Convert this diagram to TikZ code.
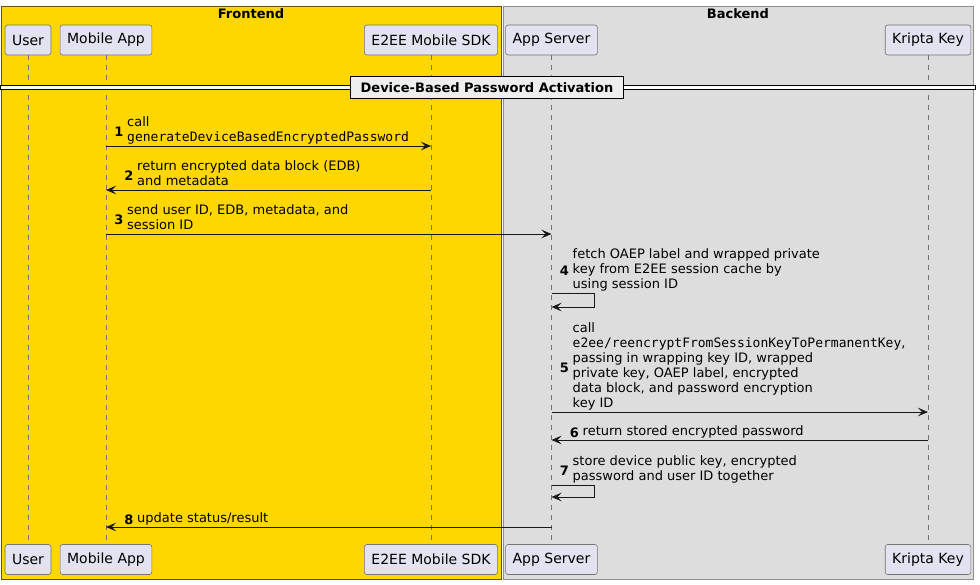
\documentclass[tikz,border=0pt]{standalone}
\usepackage{fontspec}
\setmainfont{DejaVu Sans}
\setmonofont{DejaVu Sans Mono}
\usepackage{tikz}
\usetikzlibrary{arrows.meta, positioning, calc, backgrounds}
\definecolor{frontfill}{HTML}{FFD700}
\definecolor{backfill}{HTML}{DDDDDD}
\definecolor{partfill}{HTML}{E2E2F0}
\definecolor{divfill}{HTML}{EEEEEE}
\definecolor{inkline}{HTML}{181818}

\begin{document}
\begin{tikzpicture}[x=1pt, y=-1pt, font=\fontsize{13}{15}\selectfont]
\tikzstyle{part} = [rectangle, draw=black!55, fill=partfill, rounded corners=2.5pt, minimum height=30pt, inner xsep=7pt, font=\fontsize{14}{16}\selectfont, line width=0.6pt]
\tikzstyle{group} = [draw=black!45, line width=0.8pt]
\tikzstyle{grouptitle} = [font=\fontsize{13}{15}\selectfont\bfseries, inner sep=0pt]
\tikzstyle{life} = [draw=black!55, dash pattern=on 5pt off 5pt, line width=0.6pt]
\tikzstyle{msg} = [draw=inkline, -{Stealth[length=10pt, width=8.5pt, inset=4pt]}, line width=0.9pt]
\tikzstyle{msgtext} = [align=left, inner sep=0pt, anchor=south west]
\tikzstyle{num} = [font=\fontsize{13}{15}\selectfont\bfseries, inner sep=0pt]
\tikzstyle{divider} = [rectangle, draw=black, fill=divfill, line width=1.6pt, minimum width=273pt, minimum height=22pt, font=\fontsize{13}{15}\selectfont\bfseries]

\useasboundingbox (0,0) rectangle (980,584);

\begin{pgfonlayer}{background}
    \draw [group, fill=frontfill, draw=black!45!frontfill!70!black] (1,6) rectangle (501,579);
    \draw [group, fill=backfill] (503,6) rectangle (973,579);
\end{pgfonlayer}
\node (ftitle) [grouptitle] at (251,13.5) {Frontend};
\node (btitle) [grouptitle] at (738,13.5) {Backend};

\node (user) [part] at (28,40) {User};
\node (app) [part] at (106,40) {Mobile App};
\node (sdk) [part] at (431,40) {E2EE Mobile SDK};
\node (srv) [part] at (551.5,40) {App Server};
\node (kk) [part] at (928,40) {Kripta Key};

\node (userB) [part] at (user |- 0,559.5) {User};
\node (appB) [part] at (app |- 0,559.5) {Mobile App};
\node (sdkB) [part] at (sdk |- 0,559.5) {E2EE Mobile SDK};
\node (srvB) [part] at (srv |- 0,559.5) {App Server};
\node (kkB) [part] at (kk |- 0,559.5) {Kripta Key};

\draw [life] (user) -- (userB);
\draw [life] (app) -- (appB);
\draw [life] (sdk) -- (sdkB);
\draw [life] (srv) -- (srvB);
\draw [life] (kk) -- (kkB);

\draw [line width=0.9pt, fill=white] (0,85.5) rectangle (975,89.5);
\node (activation) [divider] at (487,87.5) {Device-Based Password Activation};

\coordinate (m1a) at (app |- 0,146);
\coordinate (m1b) at (sdk |- 0,146);
\coordinate (m2a) at (sdk |- 0,190);
\coordinate (m2b) at (app |- 0,190);
\coordinate (m3a) at (app |- 0,234);
\coordinate (m3b) at (srv |- 0,234);
\coordinate (m4a) at (srv |- 0,293);
\coordinate (m4b) at (srv |- 0,307);
\coordinate (m5a) at (srv |- 0,412);
\coordinate (m5b) at (kk |- 0,412);
\coordinate (m6a) at (kk |- 0,440);
\coordinate (m6b) at (srv |- 0,440);
\coordinate (m7a) at (srv |- 0,485);
\coordinate (m7b) at (srv |- 0,497);
\coordinate (m8a) at (srv |- 0,527);
\coordinate (m8b) at (app |- 0,527);

\draw [msg] (m1a) -- (m1b);
\draw [msg] (m2a) -- (m2b);
\draw [msg] (m3a) -- (m3b);
\draw [msg] (m4a) -- ++(43,0) |- (m4b);
\draw [msg] (m5a) -- (m5b);
\draw [msg] (m6a) -- (m6b);
\draw [msg] (m7a) -- ++(43,0) |- (m7b);
\draw [msg] (m8a) -- (m8b);

\node (t1) [msgtext] at ($(m1a)+(21,0.5)$) {call\\\texttt{generateDeviceBasedEncryptedPassword}\strut};
\node (t2) [msgtext] at ($(m2b)+(31,0.5)$) {return encrypted data block (EDB)\\and metadata\strut};
\node (t3) [msgtext] at ($(m3a)+(21,0.5)$) {send user ID, EDB, metadata, and\\session ID\strut};
\node (t4) [msgtext] at ($(m4a)+(21,0.5)$) {fetch OAEP label and wrapped private\\key from E2EE session cache by\\using session ID\strut};
\node (t5) [msgtext] at ($(m5a)+(21,0.5)$) {call\\\texttt{e2ee/reencryptFromSessionKeyToPermanentKey},\\passing in wrapping key ID, wrapped\\private key, OAEP label, encrypted\\data block, and password encryption\\key ID\strut};
\node (t6) [msgtext] at ($(m6b)+(31,0.5)$) {return stored encrypted password\strut};
\node (t7) [msgtext] at ($(m7a)+(21,0.5)$) {store device public key, encrypted\\password and user ID together\strut};
\node (t8) [msgtext] at ($(m8b)+(31,0.5)$) {update status/result\strut};

\node (n1) [num, left=3.5pt of t1] {1};
\node (n2) [num, left=3.5pt of t2] {2};
\node (n3) [num, left=3.5pt of t3] {3};
\node (n4) [num, left=3.5pt of t4] {4};
\node (n5) [num, left=3.5pt of t5] {5};
\node (n6) [num, left=3.5pt of t6] {6};
\node (n7) [num, left=3.5pt of t7] {7};
\node (n8) [num, left=3.5pt of t8] {8};
\end{tikzpicture}
\end{document}
